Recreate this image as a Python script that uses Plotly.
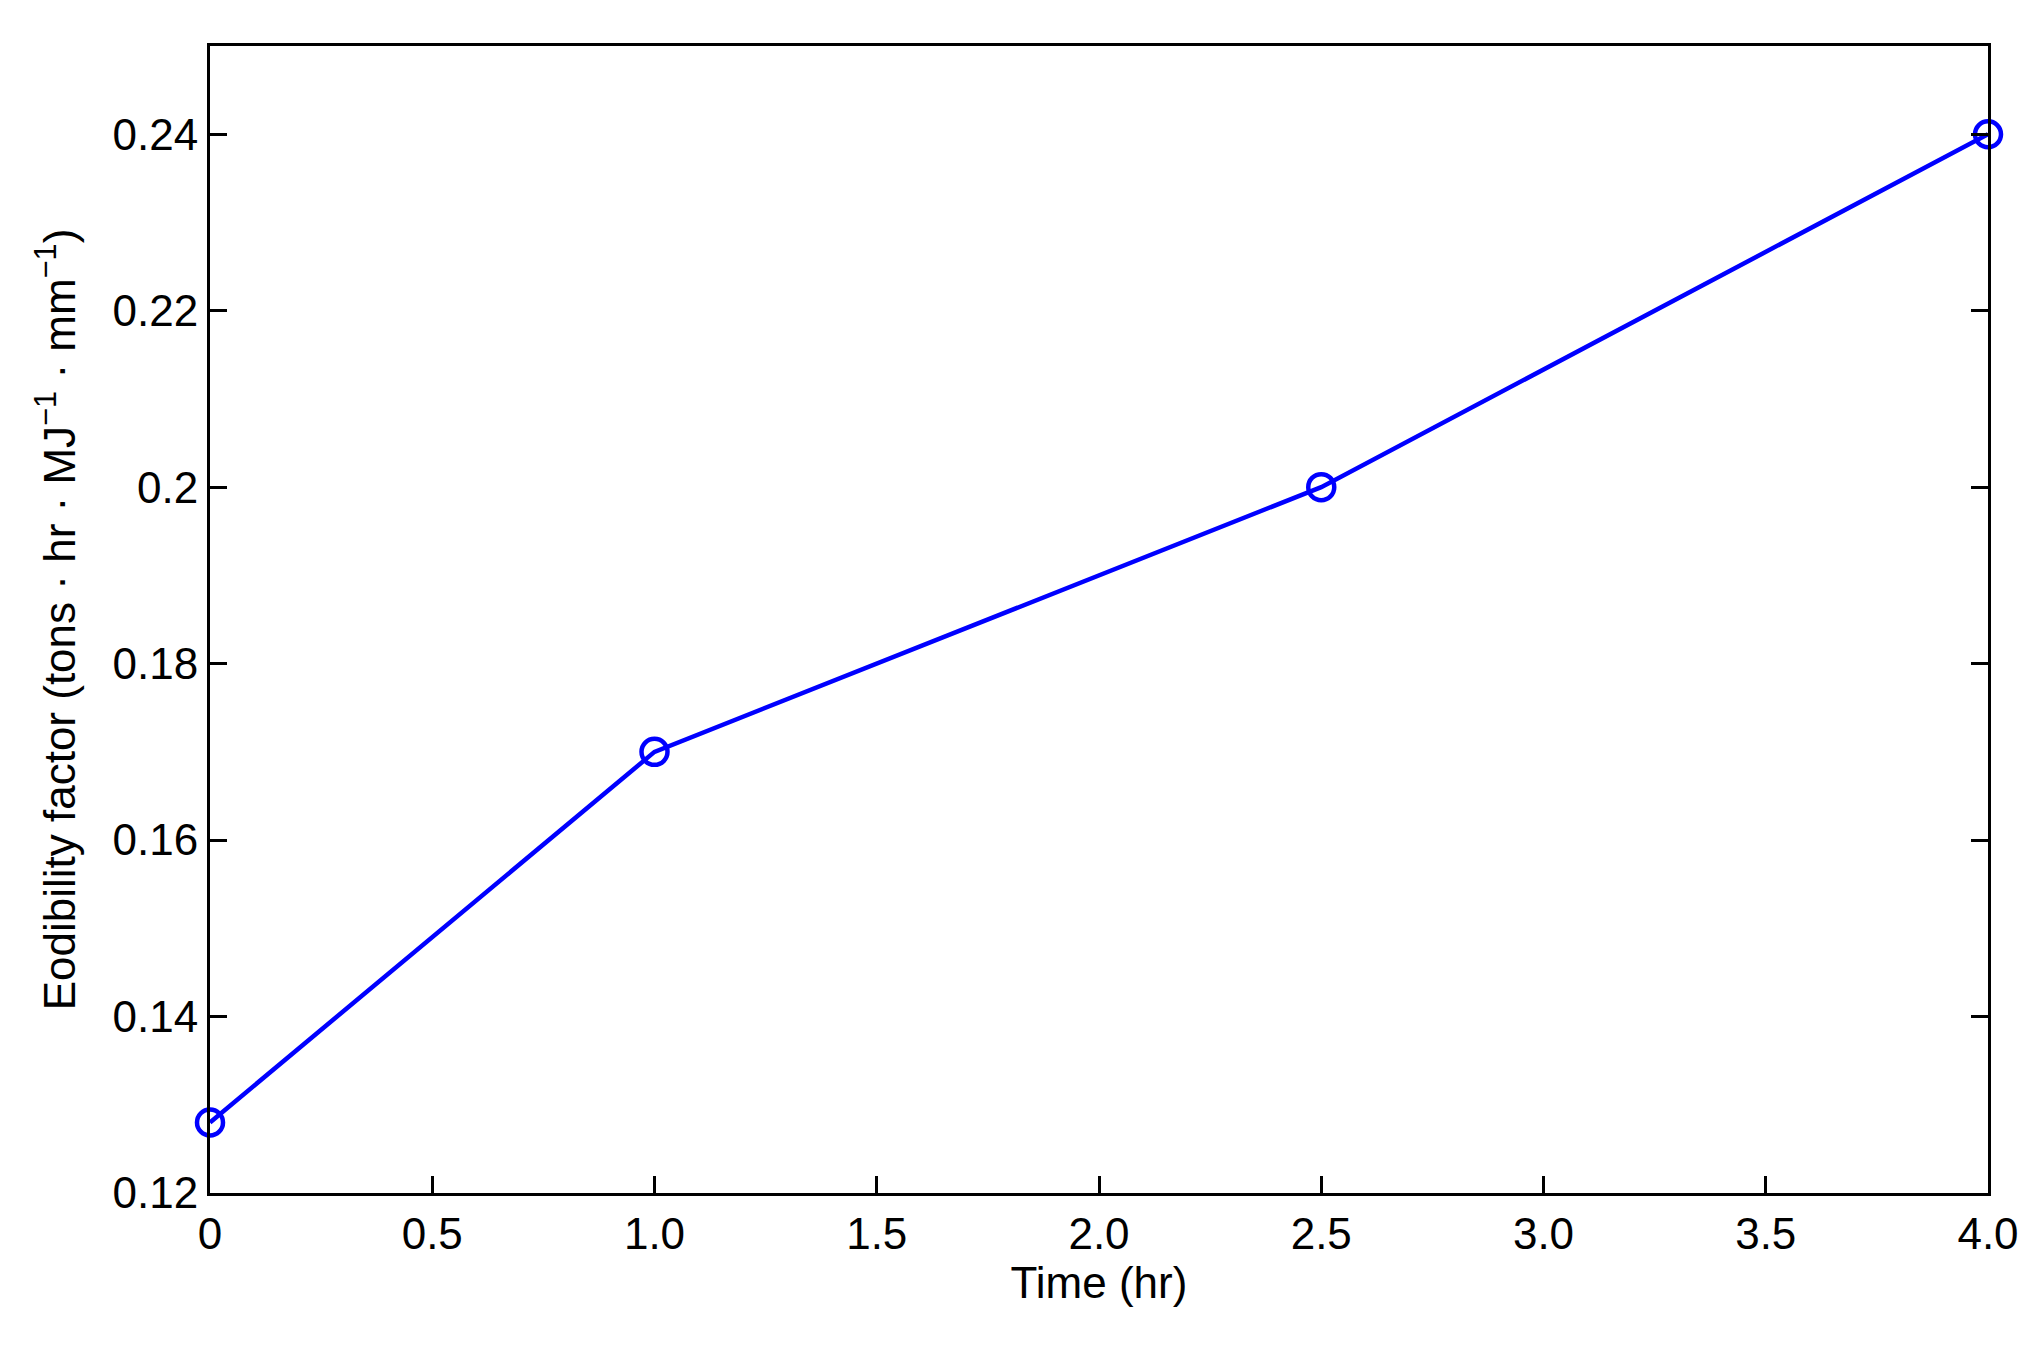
import plotly.graph_objects as go

time_hr = [0, 1.0, 2.5, 4.0]
erodibility = [0.128, 0.17, 0.20, 0.24]

x_ticks = [0, 0.5, 1.0, 1.5, 2.0, 2.5, 3.0, 3.5, 4.0]
x_labels = ["0", "0.5", "1.0", "1.5", "2.0", "2.5", "3.0", "3.5", "4.0"]
y_ticks = [0.12, 0.14, 0.16, 0.18, 0.20, 0.22, 0.24]
y_labels = ["0.12", "0.14", "0.16", "0.18", "0.2", "0.22", "0.24"]

font = "Liberation Sans, Arial, Helvetica, sans-serif"

fig = go.Figure(go.Scatter(
    x=time_hr, y=erodibility, mode="lines+markers",
    line=dict(color="#0000ff", width=4.5),
    marker=dict(symbol="circle-open", size=26, color="#0000ff", line=dict(width=4.5, color="#0000ff")),
    cliponaxis=False, showlegend=False,
))

axis_style = dict(
    showline=True, linecolor="black", linewidth=3,
    ticks="inside", ticklen=17, tickwidth=3, tickcolor="black",
    showgrid=False, zeroline=False, automargin=False,
    tickfont=dict(family=font, size=44, color="black"),
)

fig.update_xaxes(range=[0, 4], tickvals=x_ticks, ticktext=x_labels, mirror=True,
                 title=dict(text="Time (hr)", font=dict(family=font, size=44, color="black"), standoff=10),
                 **axis_style)
fig.update_yaxes(range=[0.12, 0.25], tickvals=y_ticks, ticktext=y_labels, mirror="ticks",
                 title=dict(text="Eodibility factor (tons · hr · MJ<sup>−1</sup> · mm<sup>−1</sup>)",
                            font=dict(family=font, size=44, color="black"), standoff=24),
                 **axis_style)

# page body has an 8px default margin, so the figure is a bit smaller than the window
fig.update_layout(
    width=2031, height=1341,
    margin=dict(l=202, r=51, t=38, b=156),
    paper_bgcolor="white", plot_bgcolor="white",
    font=dict(family=font, color="black"),
)

fig.write_html("out.html")
